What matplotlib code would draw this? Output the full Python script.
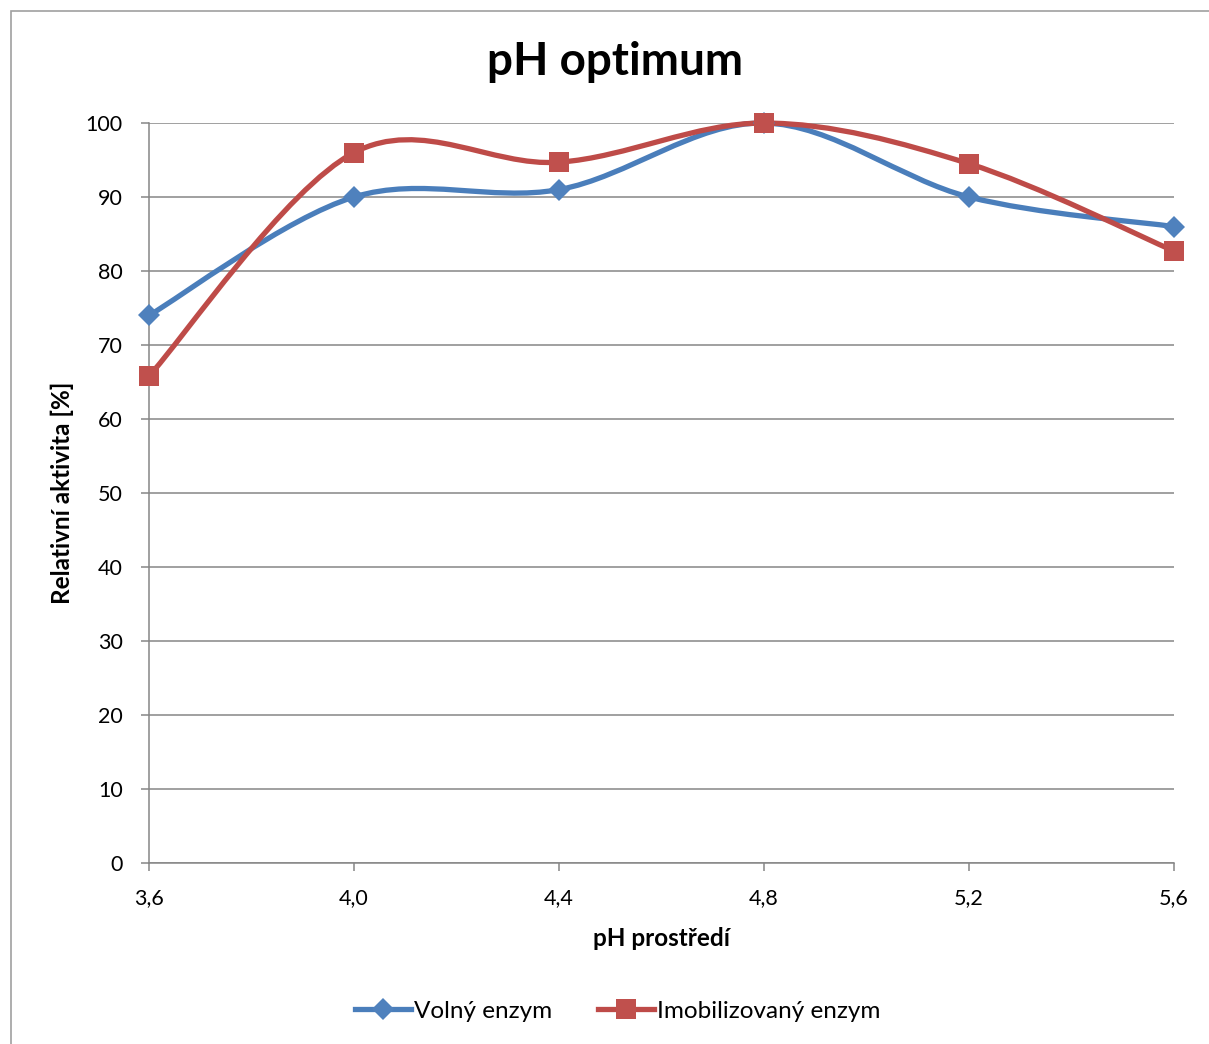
#!/usr/bin/env python3
"""pH optimum - relative activity of free vs immobilized enzyme."""

import matplotlib

matplotlib.use("Agg")
import matplotlib.pyplot as plt
from matplotlib.lines import Line2D
from matplotlib.patches import PathPatch, Rectangle
from matplotlib.path import Path

BLUE_LINE = "#4a7ebb"
BLUE_MARK = "#4f81bd"
RED_LINE = "#be4b48"
RED_MARK = "#c0504d"
GRID = "#868686"

ph = [3.6, 4.0, 4.4, 4.8, 5.2, 5.6]
ph_labels = ["3,6", "4,0", "4,4", "4,8", "5,2", "5,6"]
volny = [74.0, 90.0, 91.0, 100.0, 90.0, 86.0]
imobilizovany = [65.8, 96.0, 94.7, 100.0, 94.5, 82.7]


def smooth_path(xs, ys):
    """Excel-like smoothed line: cubic Bezier segments (Catmull-Rom)."""
    pts = list(zip(xs, ys))
    pts = [pts[0]] + pts + [pts[-1]]
    verts = [pts[1]]
    codes = [Path.MOVETO]
    for i in range(1, len(pts) - 2):
        p0, p1, p2, p3 = pts[i - 1], pts[i], pts[i + 1], pts[i + 2]
        c1 = (p1[0] + (p2[0] - p0[0]) / 6, p1[1] + (p2[1] - p0[1]) / 6)
        c2 = (p2[0] - (p3[0] - p1[0]) / 6, p2[1] - (p3[1] - p1[1]) / 6)
        verts += [c1, c2, p2]
        codes += [Path.CURVE4] * 3
    return Path(verts, codes)


def main():
    plt.rcParams.update({"font.family": ["Lato", "DejaVu Sans"], "font.size": 15})
    fig = plt.figure(figsize=(12.09, 10.44), dpi=100)
    fig.patches.append(
        Rectangle((11 / 1209, -0.1), 1.2, 1.1 - 11 / 1044, transform=fig.transFigure,
                  fill=False, edgecolor="#a0a0a0", linewidth=1.2)
    )
    ax = fig.add_axes([149 / 1209, 1 - 863 / 1044, 1025 / 1209, 740 / 1044])

    series = [
        (volny, BLUE_LINE, BLUE_MARK, "D", 11, "Volný enzym"),
        (imobilizovany, RED_LINE, RED_MARK, "s", 14, "Imobilizovaný enzym"),
    ]
    handles = []
    for values, lcol, mcol, marker, msize, label in series:
        ax.add_patch(PathPatch(smooth_path(ph, values), fill=False, edgecolor=lcol,
                               linewidth=3.8, capstyle="round", zorder=3,
                               clip_on=False))
        ax.plot(ph, values, linestyle="none", marker=marker, markersize=msize,
                markerfacecolor=mcol, markeredgewidth=0, zorder=4, clip_on=False)
        handles.append(Line2D([], [], color=lcol, linewidth=3.8, marker=marker,
                              markersize=msize, markerfacecolor=mcol,
                              markeredgewidth=0, label=label))

    ax.set_xlim(3.6, 5.6)
    ax.set_ylim(0, 100)
    ax.set_xticks(ph, ph_labels)
    ax.set_yticks(range(0, 101, 10))
    ax.yaxis.grid(True, color=GRID, linewidth=1.1)
    ax.set_axisbelow(True)
    for side in ("top", "right"):
        ax.spines[side].set_visible(False)
    for side in ("left", "bottom"):
        ax.spines[side].set_color(GRID)
        ax.spines[side].set_linewidth(1.1)
    ax.tick_params(axis="both", colors=GRID, labelcolor="black", length=6,
                   width=1.1, labelsize=15.5)
    ax.tick_params(axis="y", pad=13)
    ax.tick_params(axis="x", pad=12)

    fig.text(615 / 1209, 1 - 62 / 1044, "pH optimum", fontsize=33,
             fontweight="bold", ha="center", va="center")
    ax.set_xlabel("pH prostředí", fontsize=17.5, fontweight="bold", labelpad=14)
    ax.set_ylabel("Relativní aktivita [%]", fontsize=17.5, fontweight="bold",
                  labelpad=8)

    fig.legend(handles=handles, loc="center", bbox_to_anchor=(618 / 1209, 1 - 1011 / 1044),
               ncol=2, frameon=False, fontsize=17.5, handlelength=2.3,
               handletextpad=0.12, columnspacing=1.9)

    fig.savefig("out.png", dpi=100)


if __name__ == "__main__":
    main()
